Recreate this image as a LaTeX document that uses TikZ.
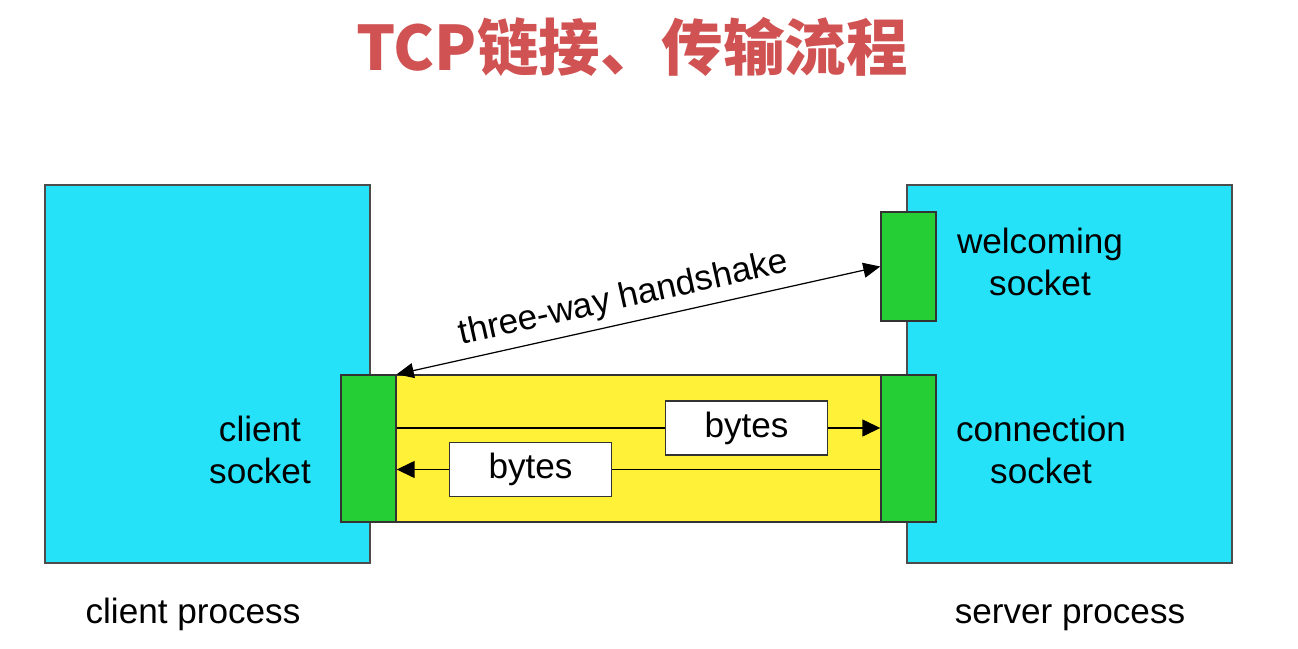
\documentclass[tikz,border=0pt]{standalone}
\usepackage{fontspec}
\setmainfont{Liberation Sans}
\newfontfamily\cjk{Noto Sans CJK SC}
\usetikzlibrary{arrows.meta}
\definecolor{proccyan}{RGB}{38,226,248}
\definecolor{sockgreen}{RGB}{36,206,52}
\definecolor{pipeyellow}{RGB}{255,240,56}
\definecolor{titlered}{RGB}{208,82,82}
\tikzstyle{every node}=[font=\fontsize{20}{24}\selectfont]
\tikzset{procbox/.style={draw=black!70, fill=proccyan, inner sep=0pt,
      minimum width=6.5cm, minimum height=7.56cm}}
\tikzset{sockbox/.style={draw=black!80, fill=sockgreen, inner sep=0pt, minimum width=1.1cm}}
\tikzset{bytesbox/.style={draw=black!80, fill=white, inner sep=0pt,
      minimum width=3.24cm, minimum height=1.08cm}}
\tikzset{lbl/.style={align=center}}

\begin{document}
\begin{tikzpicture}[x=0.02cm, y=-0.02cm, line width=0.8pt,
    >={Triangle[length=0.36cm,width=0.34cm]}]
    \useasboundingbox (0,0) rectangle (1298,649);
    \node[text=titlered, font=\cjk\bfseries\fontsize{35}{40}\selectfont] (title) at (632,47) {TCP链接、传输流程};
    % processes
    \node[procbox] (client) at (207.5,374) {};
    \node[procbox] (server) at (1069.5,374) {};
    % tcp pipe and sockets
    \node[draw=black!80, fill=pipeyellow, inner sep=0pt, minimum width=9.7cm, minimum height=2.94cm] (pipe) at (638.5,448.5) {};
    \node[sockbox, minimum height=2.94cm] (csock) at (368.5,448.5) {};
    \node[sockbox, minimum height=2.94cm] (consock) at (908.5,448.5) {};
    \node[sockbox, minimum height=2.18cm] (wsock) at (908.5,266.5) {};
    \node[bytesbox] (bytesa) at (746.5,428) {bytes};
    \node[bytesbox] (bytesb) at (530.5,469.5) {bytes};
    \draw (csock.east |- bytesa.west) -- (bytesa.west);
    \draw[->] (bytesa.east) -- (consock.west |- bytesa.east);
    \draw (consock.west |- bytesb.east) -- (bytesb.east);
    \draw[->] (bytesb.west) -- (csock.east |- bytesb.west);
    % handshake
    \draw[<->, line width=0.7pt, >={Triangle[length=0.34cm,width=0.3cm]}] (csock.north east) -- (wsock.west)
      node[pos=0.48, sloped, above=4pt, inner sep=0pt] (hs) {three-way handshake};
    % labels
    \node[lbl] (clbl) at (260,450) {client\\socket};
    \node[lbl] (conlbl) at (1041,450) {connection\\socket};
    \node[lbl] (wlbl) at (1040,262) {welcoming\\socket};
    \node[anchor=base] (cproc) at (193,623) {client process};
    \node[anchor=base] (sproc) at (1070,623) {server process};
  \end{tikzpicture}
\end{document}
